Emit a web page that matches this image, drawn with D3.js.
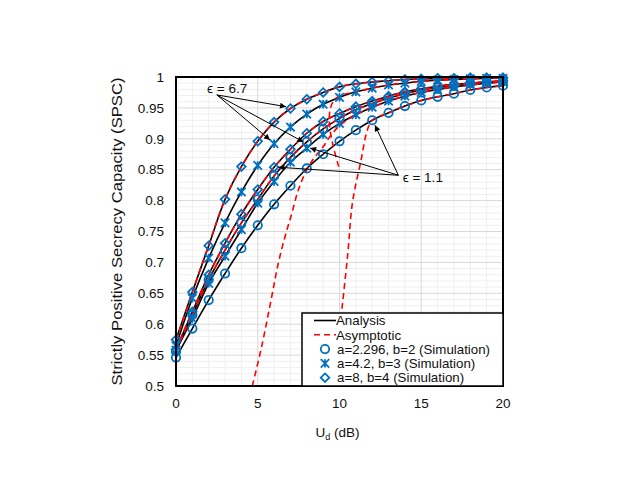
<!DOCTYPE html>
<html><head><meta charset="utf-8">
<script src="https://cdn.jsdelivr.net/npm/d3@7"></script>
<style>body{margin:0;background:#fff} text{font-family:"Liberation Sans",Arial,sans-serif;fill:#111}</style>
</head><body><svg id="c" width="623" height="481"></svg>
<script>
// ---- data ----
const xValues = d3.range(0, 21);
const xTicks = [0, 5, 10, 15, 20];
const yTicks = [0.5, 0.55, 0.6, 0.65, 0.7, 0.75, 0.8, 0.85, 0.9, 0.95, 1];
const yTickLabels = ["0.5","0.55","0.6","0.65","0.7","0.75","0.8","0.85","0.9","0.95","1"];

// analysis / simulation (same points at integer U_d)
const D67 = [0.575,0.652,0.727,0.802,0.855,0.896,0.927,0.949,0.964,0.975,0.984,0.989,0.992,0.994,0.996,0.997,0.998,0.998,0.999,0.999,0.999];
const X67 = [0.565,0.642,0.707,0.764,0.814,0.857,0.892,0.919,0.940,0.956,0.967,0.976,0.982,0.987,0.990,0.993,0.995,0.996,0.997,0.998,0.998];
const D11 = [0.559,0.620,0.680,0.731,0.778,0.818,0.854,0.883,0.909,0.928,0.941,0.952,0.961,0.969,0.976,0.981,0.985,0.988,0.990,0.992,0.994];
const C67 = [0.556,0.615,0.672,0.720,0.764,0.802,0.840,0.870,0.895,0.916,0.933,0.947,0.957,0.966,0.973,0.979,0.983,0.987,0.990,0.992,0.993];
const X11 = [0.558,0.609,0.666,0.710,0.753,0.796,0.831,0.862,0.885,0.907,0.925,0.939,0.951,0.961,0.969,0.975,0.980,0.984,0.987,0.990,0.992];
const C11 = [0.546,0.593,0.639,0.682,0.723,0.760,0.794,0.824,0.852,0.875,0.896,0.914,0.930,0.942,0.953,0.962,0.968,0.973,0.979,0.983,0.986];

// asymptotic curves
const asymD67x = xValues, asymD67y = [0.574,0.652,0.728,0.802,0.855,0.896,0.927,0.949,0.964,0.975,0.984,0.989,0.992,0.994,0.996,0.997,0.998,0.998,0.999,0.999,0.999];
const asymD11x = xValues, asymD11y = [0.560,0.621,0.680,0.731,0.778,0.818,0.854,0.883,0.909,0.928,0.941,0.952,0.961,0.969,0.976,0.981,0.985,0.988,0.990,0.992,0.994];
const asymC67x = xValues, asymC67y = [0.557,0.616,0.672,0.720,0.764,0.802,0.840,0.870,0.895,0.916,0.933,0.947,0.957,0.966,0.973,0.979,0.983,0.987,0.990,0.992,0.993];
const asymX11x = [4.67,5.24,5.85,6.26,6.67,7.08,7.48,8.0,8.5,9.0,9.4,10,11,12,13,14,15,16,17,18,19,20];
const asymX11y = [0.5,0.564,0.644,0.699,0.742,0.779,0.817,0.85,0.871,0.887,0.903,0.921,0.939,0.951,0.961,0.969,0.975,0.980,0.984,0.987,0.990,0.992];
const asymX67x = [9.95,9.6,9.38,9.45,9.75,10.3,11,12,13,14,15,16,17,18,19,20];
const asymX67y = [0.855,0.89,0.925,0.95,0.965,0.972,0.976,0.982,0.987,0.990,0.993,0.995,0.996,0.997,0.998,0.998];
const asymC11x = [10.15,10.5,10.8,11.3,11.7,12,13,14,15,16,17,18,19,20];
const asymC11y = [0.625,0.712,0.798,0.863,0.914,0.930,0.942,0.953,0.962,0.968,0.973,0.979,0.983,0.986];

const legendLabels = ["Analysis","Asymptotic","a=2.296, b=2 (Simulation)","a=4.2, b=3 (Simulation)","a=8, b=4 (Simulation)"];

// ---- drawing ----
const svg = d3.select("#c");
const L=176,R=503,T=77,B=386;
const x = d3.scaleLinear([0,20],[L,R]);
const y = d3.scaleLinear([0.5,1],[B,T]);
const blue = "#0070C0";

// grid
const g = svg.append("g");
g.selectAll(".vx").data(d3.range(0,21).filter(v=>v%5)).join("line")
 .attr("x1",d=>x(d)).attr("x2",d=>x(d)).attr("y1",T).attr("y2",B).attr("stroke","#efefef");
g.selectAll(".hy").data(d3.range(50,101).filter(v=>v%5).map(v=>v/100)).join("line")
 .attr("y1",d=>y(d)).attr("y2",d=>y(d)).attr("x1",L).attr("x2",R).attr("stroke","#efefef");
g.selectAll(".vX").data(xTicks).join("line")
 .attr("x1",d=>x(d)).attr("x2",d=>x(d)).attr("y1",T).attr("y2",B).attr("stroke","#d9d9d9");
g.selectAll(".hY").data(yTicks).join("line")
 .attr("y1",d=>y(d)).attr("y2",d=>y(d)).attr("x1",L).attr("x2",R).attr("stroke","#d9d9d9");

svg.append("defs").append("clipPath").attr("id","clip").append("rect")
 .attr("x",L).attr("y",T).attr("width",R-L).attr("height",B-T);
svg.select("defs").append("marker").attr("id","ah").attr("viewBox","0 0 10 10")
 .attr("refX",10).attr("refY",5).attr("markerWidth",7).attr("markerHeight",6).attr("orient","auto")
 .attr("markerUnits","userSpaceOnUse")
 .append("path").attr("d","M0,0L10,5L0,10z").attr("fill","#000");

const plot = svg.append("g").attr("clip-path","url(#clip)");
const lineA = d3.line().x((d,i)=>x(xValues[i])).y(d=>y(d)).curve(d3.curveCatmullRom.alpha(0.5));
[D67,X67,D11,C67,X11,C11].forEach(s=>{
  plot.append("path").attr("d",lineA(s)).attr("fill","none").attr("stroke","#000").attr("stroke-width",1.6);
});
const lineP = d3.line().x(d=>x(d[0])).y(d=>y(d[1])).curve(d3.curveCatmullRom.alpha(0.5));
[[asymD67x,asymD67y],[asymD11x,asymD11y],[asymC67x,asymC67y],[asymX11x,asymX11y],[asymX67x,asymX67y],[asymC11x,asymC11y]].forEach(([xs,ys])=>{
  const pts = xs.map((v,i)=>[v,ys[i]]);
  plot.append("path").attr("d",lineP(pts)).attr("fill","none").attr("stroke","#ff0000")
   .attr("stroke-width",1.6).attr("stroke-dasharray","6,4");
});

// markers
function circ(sel,cx,cy){sel.append("circle").attr("cx",cx).attr("cy",cy).attr("r",4.2).attr("fill","none").attr("stroke",blue).attr("stroke-width",1.8);}
function star(sel,cx,cy){const s=4.2;sel.append("path").attr("d",`M${cx-s},${cy-s}L${cx+s},${cy+s}M${cx-s},${cy+s}L${cx+s},${cy-s}M${cx},${cy-s}L${cx},${cy+s}`).attr("stroke",blue).attr("stroke-width",1.8).attr("fill","none");}
function diam(sel,cx,cy){const s=4.3;sel.append("path").attr("d",`M${cx},${cy-s}L${cx+s},${cy}L${cx},${cy+s}L${cx-s},${cy}Z`).attr("stroke",blue).attr("stroke-width",1.8).attr("fill","none");}
const mk = svg.append("g");
[[C11,circ],[C67,circ],[X11,star],[X67,star],[D11,diam],[D67,diam]].forEach(([s,f])=>{
  s.forEach((v,i)=>f(mk,x(xValues[i]),y(v)));
});

// frame
svg.append("rect").attr("x",L).attr("y",T).attr("width",R-L).attr("height",B-T).attr("fill","none").attr("stroke","#000").attr("stroke-width",2);

// ticks
svg.selectAll(".yt").data(yTicks).join("text").attr("x",164).attr("y",d=>y(d)+4.7)
 .attr("text-anchor","end").attr("font-size",13.5).text((d,i)=>yTickLabels[i]);
svg.selectAll(".xt").data(xTicks).join("text").attr("x",d=>x(d)).attr("y",408)
 .attr("text-anchor","middle").attr("font-size",13.5).text(d=>d);

// axis titles
const xt = svg.append("text").attr("x",(L+R)/2 - 2).attr("y",437).attr("text-anchor","middle").attr("font-size",13.5);
xt.append("tspan").text("U");
xt.append("tspan").attr("font-size",9).attr("dy",3).text("d");
xt.append("tspan").attr("dy",-3).text(" (dB)");
svg.append("text").attr("transform",`translate(122,${(T+B)/2}) rotate(-90)`).attr("text-anchor","middle")
 .attr("font-size",15).attr("textLength",308).attr("lengthAdjust","spacingAndGlyphs")
 .text("Strictly Positive Secrecy Capacity (SPSC)");

// annotations
const ann = svg.append("g");
ann.append("text").attr("x",x(1.9)).attr("y",y(0.974)).attr("font-size",13.5).text("ϵ = 6.7");
[[6.73,0.952],[5.75,0.898],[7.79,0.895]].forEach(([tx,ty])=>{
  ann.append("line").attr("x1",x(2.5)).attr("y1",y(0.971)).attr("x2",x(tx)).attr("y2",y(ty))
   .attr("stroke","#000").attr("stroke-width",1).attr("marker-end","url(#ah)");
});
ann.append("text").attr("x",x(13.87)).attr("y",y(0.830)).attr("font-size",13.5).text("ϵ = 1.1");
[[12.17,0.922],[8.2,0.885],[6.26,0.854]].forEach(([tx,ty])=>{
  ann.append("line").attr("x1",x(13.6)).attr("y1",y(0.841)).attr("x2",x(tx)).attr("y2",y(ty))
   .attr("stroke","#000").attr("stroke-width",1).attr("marker-end","url(#ah)");
});

// legend
const lg = svg.append("g");
lg.append("rect").attr("x",302).attr("y",313).attr("width",R-302).attr("height",B-313).attr("fill","#fff").attr("stroke","#000").attr("stroke-width",1.5);
const ly = [320.5,334.8,349.1,363.4,377.7];
lg.append("line").attr("x1",314).attr("x2",336).attr("y1",ly[0]).attr("y2",ly[0]).attr("stroke","#000").attr("stroke-width",1.6);
lg.append("line").attr("x1",314).attr("x2",336).attr("y1",ly[1]).attr("y2",ly[1]).attr("stroke","#ff0000").attr("stroke-width",1.6).attr("stroke-dasharray","6,4");
circ(lg,325,ly[2]); star(lg,325,ly[3]); diam(lg,325,ly[4]);
legendLabels.forEach((t,i)=>{
  lg.append("text").attr("x",i<2?336:337).attr("y",ly[i]+4.7).attr("font-size",13.3).text(t);
});
</script></body></html>
